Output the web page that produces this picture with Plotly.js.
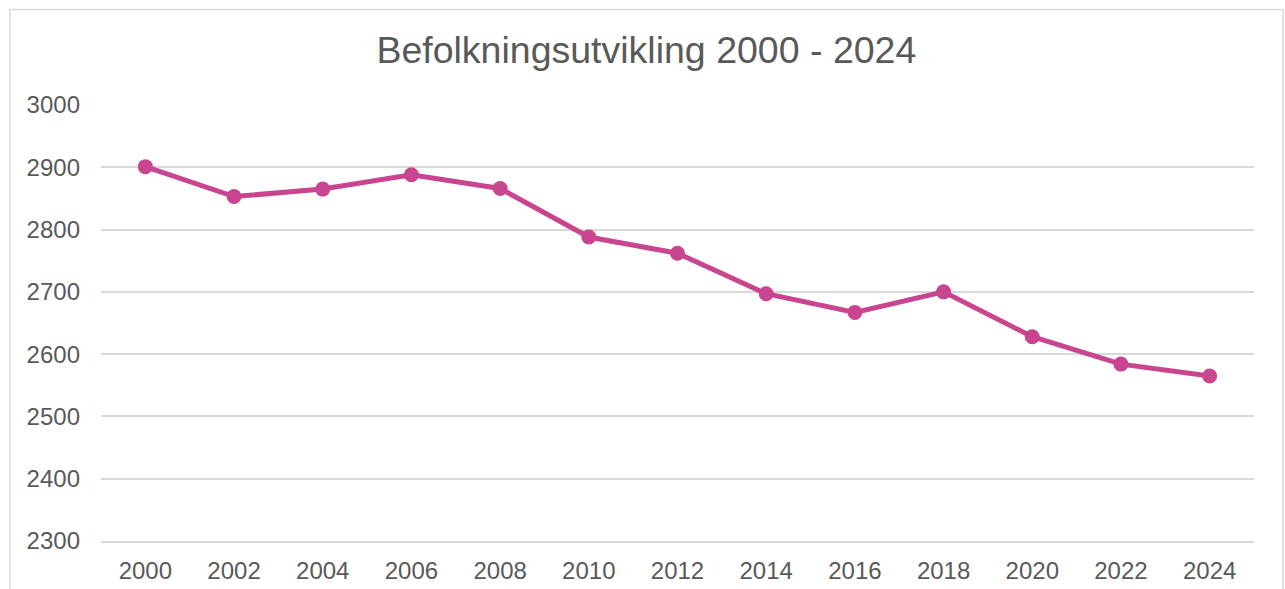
<!DOCTYPE html>
<html>
<head>
<meta charset="utf-8">
<script src="https://cdn.plot.ly/plotly-3.0.1.min.js"></script>
<style>
  html, body { margin: 0; padding: 0; background: #ffffff; }
  #chart { width: 1285px; height: 589px; }
</style>
</head>
<body>
<div id="chart"></div>
<script>
const years = ["2000", "2002", "2004", "2006", "2008", "2010", "2012", "2014", "2016", "2018", "2020", "2022", "2024"];
const population = [2901, 2853, 2865, 2888, 2866, 2788, 2762, 2697, 2667, 2700, 2628, 2584, 2565];
const yTicks = [2300, 2400, 2500, 2600, 2700, 2800, 2900, 3000];
const chartTitle = "Befolkningsutvikling 2000 - 2024";

const textColor = "#595959";
const gridColor = "#D9D9D9";
const lineColor = "#CA4590";
const fontFamily = "'Liberation Sans', Arial, sans-serif";

const trace = {
  type: "scatter",
  mode: "lines+markers",
  x: years,
  y: population,
  line: { color: lineColor, width: 5 },
  marker: { color: lineColor, size: 15 },
  hoverinfo: "x+y"
};

const layout = {
  width: 1285,
  height: 589,
  margin: { l: 101, r: 31, t: 105, b: 48, pad: 0 },
  paper_bgcolor: "#ffffff",
  plot_bgcolor: "#ffffff",
  showlegend: false,
  font: { family: fontFamily, color: textColor, size: 24 },
  title: {
    text: chartTitle,
    font: { family: fontFamily, size: 37.5, color: textColor },
    xref: "container",
    yref: "container",
    x: 0.503,
    xanchor: "center",
    y: 0.916,
    yanchor: "middle"
  },
  xaxis: {
    type: "category",
    range: [-0.5, years.length - 0.5],
    showgrid: false,
    showline: true,
    linecolor: gridColor,
    linewidth: 2,
    ticks: "",
    ticklabelstandoff: 7,
    tickfont: { family: fontFamily, size: 24, color: textColor },
    zeroline: false,
    fixedrange: true
  },
  yaxis: {
    range: [yTicks[0], yTicks[yTicks.length - 1]],
    tickmode: "array",
    tickvals: yTicks,
    ticktext: yTicks.map(String),
    showgrid: true,
    gridcolor: gridColor,
    gridwidth: 2,
    showline: false,
    zeroline: false,
    ticks: "",
    ticklabelstandoff: 20,
    tickfont: { family: fontFamily, size: 24, color: textColor },
    fixedrange: true
  },
  shapes: [{
    type: "rect",
    xref: "paper",
    yref: "paper",
    x0: (10 - 101) / 1153,
    x1: (1283 - 101) / 1153,
    y0: -0.3,
    y1: (541 - 9.5) / 436,
    line: { color: gridColor, width: 1.5 },
    fillcolor: "rgba(0,0,0,0)",
    layer: "below"
  }]
};

Plotly.newPlot("chart", [trace], layout, { displayModeBar: false, staticPlot: true });
</script>
</body>
</html>
